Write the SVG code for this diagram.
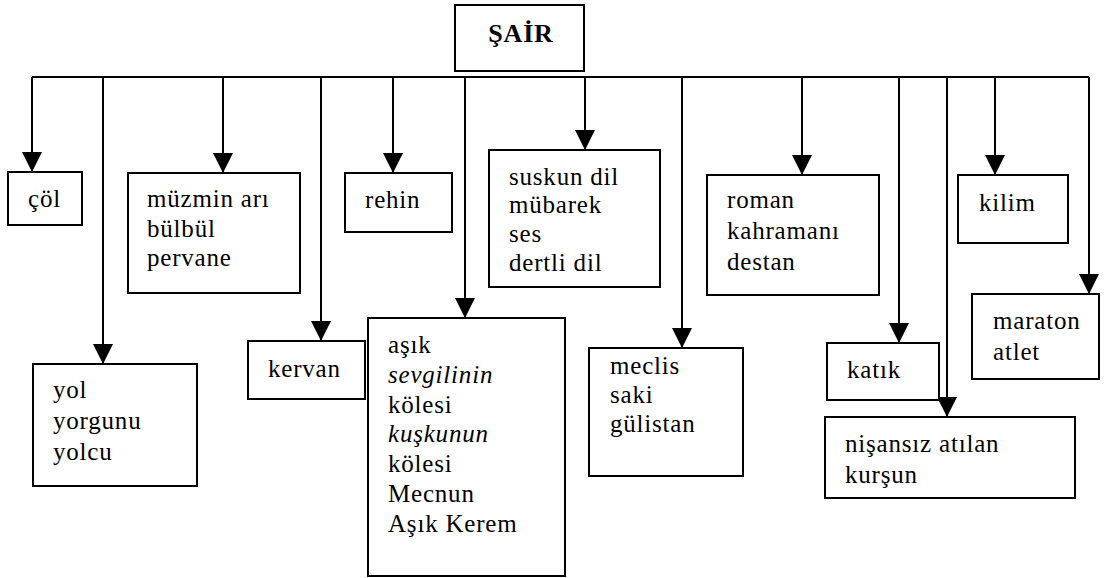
<svg xmlns="http://www.w3.org/2000/svg" width="1105" height="578" viewBox="0 0 1105 578">
<style>
.box{fill:#fff;stroke:#000;stroke-width:2}
text{font-family:'Liberation Serif','Times New Roman',Times,'DejaVu Serif',serif;fill:#000}
.t{font-size:25px;letter-spacing:0.8px}
.i{font-style:italic}
.title{font-size:26px;font-weight:bold;letter-spacing:0.8px}
.c{fill:none;stroke:#000;stroke-width:2}
</style>
<defs>
<marker id="ah" viewBox="0 0 20 20" refX="20" refY="10" markerWidth="20" markerHeight="20" markerUnits="userSpaceOnUse" orient="auto">
<path d="M0,0 L20,10 L0,20 z" fill="#000"/>
</marker>
</defs>
<rect width="1105" height="578" fill="#fff"/>
<g id="connectors">
<path class="c" d="M32,77 H1089"/>
<path class="c" d="M32,77 V172" marker-end="url(#ah)"/>
<path class="c" d="M103,77 V364" marker-end="url(#ah)"/>
<path class="c" d="M223,77 V173" marker-end="url(#ah)"/>
<path class="c" d="M321,77 V341" marker-end="url(#ah)"/>
<path class="c" d="M393,77 V173" marker-end="url(#ah)"/>
<path class="c" d="M465,77 V318" marker-end="url(#ah)"/>
<path class="c" d="M585,77 V150" marker-end="url(#ah)"/>
<path class="c" d="M682,77 V348" marker-end="url(#ah)"/>
<path class="c" d="M802,77 V175" marker-end="url(#ah)"/>
<path class="c" d="M899,77 V343" marker-end="url(#ah)"/>
<path class="c" d="M947,77 V417" marker-end="url(#ah)"/>
<path class="c" d="M995,77 V175" marker-end="url(#ah)"/>
<path class="c" d="M1089,77 V294" marker-end="url(#ah)"/>
</g>
<g id="sair">
<rect class="box" x="455" y="5" width="129" height="66"/>
<text class="title" x="521" y="42" text-anchor="middle">ŞAİR</text>
</g>
<g id="col">
<rect class="box" x="8" y="172" width="74" height="53"/>
<text class="t" x="28" y="207">çöl</text>
</g>
<g id="yol">
<rect class="box" x="33" y="364" width="164" height="122"/>
<text class="t" x="53" y="398">yol</text>
<text class="t" x="53" y="429">yorgunu</text>
<text class="t" x="53" y="460">yolcu</text>
</g>
<g id="muzmin">
<rect class="box" x="128" y="173" width="172" height="120"/>
<text class="t" x="147" y="207">müzmin arı</text>
<text class="t" x="147" y="237">bülbül</text>
<text class="t" x="147" y="266">pervane</text>
</g>
<g id="kervan">
<rect class="box" x="248" y="341" width="117" height="58"/>
<text class="t" x="268" y="377">kervan</text>
</g>
<g id="rehin">
<rect class="box" x="345" y="173" width="107" height="59"/>
<text class="t" x="365" y="208">rehin</text>
</g>
<g id="asik">
<rect class="box" x="368" y="318" width="197" height="258"/>
<text class="t" x="388" y="353">aşık</text>
<text class="t i" x="388" y="383">sevgilinin</text>
<text class="t" x="388" y="413">kölesi</text>
<text class="t i" x="388" y="442">kuşkunun</text>
<text class="t" x="388" y="472">kölesi</text>
<text class="t" x="388" y="502">Mecnun</text>
<text class="t" x="388" y="532">Aşık Kerem</text>
</g>
<g id="suskun">
<rect class="box" x="489" y="150" width="171" height="137"/>
<text class="t" x="509" y="185">suskun dil</text>
<text class="t" x="509" y="213">mübarek</text>
<text class="t" x="509" y="242">ses</text>
<text class="t" x="509" y="271">dertli dil</text>
</g>
<g id="meclis">
<rect class="box" x="589" y="348" width="154" height="128"/>
<text class="t" x="610" y="374">meclis</text>
<text class="t" x="610" y="403">saki</text>
<text class="t" x="610" y="432">gülistan</text>
</g>
<g id="roman">
<rect class="box" x="707" y="175" width="172" height="120"/>
<text class="t" x="727" y="208">roman</text>
<text class="t" x="727" y="239">kahramanı</text>
<text class="t" x="727" y="270">destan</text>
</g>
<g id="katik">
<rect class="box" x="827" y="343" width="112" height="57"/>
<text class="t" x="847" y="378">katık</text>
</g>
<g id="nisansiz">
<rect class="box" x="825" y="417" width="250" height="81"/>
<text class="t" x="845" y="452">nişansız atılan</text>
<text class="t" x="845" y="483">kurşun</text>
</g>
<g id="kilim">
<rect class="box" x="958" y="175" width="110" height="68"/>
<text class="t" x="979" y="211">kilim</text>
</g>
<g id="maraton">
<rect class="box" x="972" y="294" width="127" height="85"/>
<text class="t" x="993" y="329">maraton</text>
<text class="t" x="993" y="360">atlet</text>
</g>
</svg>
